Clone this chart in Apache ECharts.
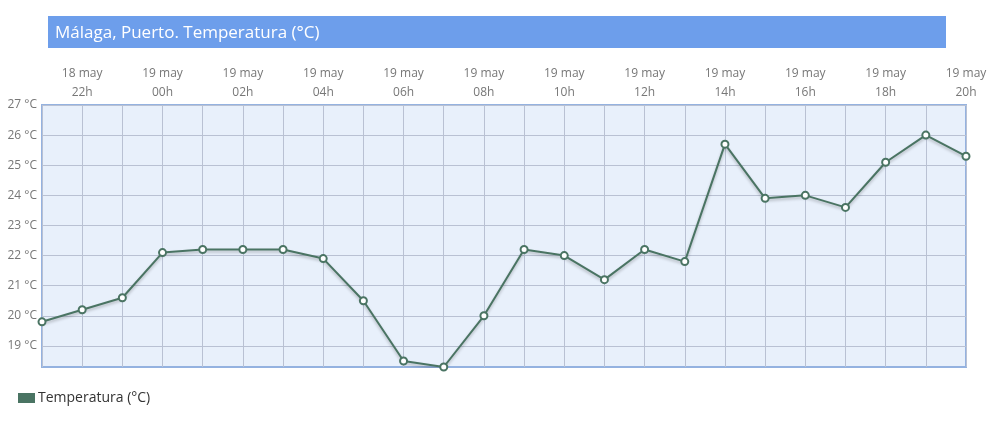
<!DOCTYPE html>
<html><head><meta charset="utf-8">
<script src="https://cdn.jsdelivr.net/npm/echarts@6/dist/echarts.min.js"></script>
<style>html,body{margin:0;padding:0;background:#fff}#c{width:993px;height:430px}</style>
</head><body><div id="c"></div>
<script>
const titleText = 'Málaga, Puerto. Temperatura (°C)';
const seriesName = 'Temperatura (°C)';
const days = ['18 may','18 may','18 may','19 may','19 may','19 may','19 may','19 may','19 may','19 may','19 may','19 may','19 may','19 may','19 may','19 may','19 may','19 may','19 may','19 may','19 may','19 may','19 may','19 may'];
const hours = ['21h','22h','23h','00h','01h','02h','03h','04h','05h','06h','07h','08h','09h','10h','11h','12h','13h','14h','15h','16h','17h','18h','19h','20h'];
const temps = [19.8,20.2,20.6,22.1,22.2,22.2,22.2,21.9,20.5,18.5,18.3,20.0,22.2,22.0,21.2,22.2,21.8,25.7,23.9,24.0,23.6,25.1,26.0,25.3];
const yTicks = [19,20,21,22,23,24,25,26,27];
const yMin = 18.3, yMax = 27;

const categories = days.map((d,i)=>d+'\n'+hours[i]);
const chart = echarts.init(document.getElementById('c'));
chart.setOption({
  animation:false,
  textStyle:{fontFamily:'Open Sans'},
  graphic:[
    {type:'rect',shape:{x:48,y:16,width:898,height:32},style:{fill:'#6d9eeb'}},
    {type:'text',left:55,top:25,style:{text:titleText,fill:'#fff',font:'17px "Open Sans"'}}
  ],
  legend:{left:13,top:386,itemWidth:15,itemHeight:8,itemGap:3,icon:'rect',
    textStyle:{color:'#333',fontSize:14,fontFamily:'Open Sans',padding:[0,0,0,-1]},
    data:[{name:seriesName,itemStyle:{color:'#4a7463'}}]},
  grid:{left:42,right:27,top:105,bottom:63,show:true,backgroundColor:'#e8f0fb',borderColor:'#94b2e0',borderWidth:2},
  xAxis:{type:'category',data:categories,boundaryGap:false,position:'top',
    axisLine:{show:false},axisTick:{show:false},
    axisLabel:{interval:(i)=>i%2===1,color:'#777',fontSize:12,lineHeight:19,margin:3,fontFamily:'Open Sans'},
    splitLine:{show:true,interval:0,lineStyle:{color:'#b9c1d3',width:1}}},
  yAxis:{type:'value',min:yMin,max:yMax,
    axisLine:{show:false},
    axisTick:{show:false,customValues:yTicks},
    axisLabel:{customValues:yTicks,color:'#777',fontSize:12,margin:5,formatter:v=>v+' °C',fontFamily:'Open Sans'},
    splitLine:{show:true,lineStyle:{color:'#b9c1d3',width:1}}},
  series:[{name:seriesName,type:'line',data:temps,
    symbol:'circle',symbolSize:7,
    lineStyle:{color:'#4a7463',width:2,shadowColor:'rgba(0,0,0,0.25)',shadowBlur:3,shadowOffsetY:2},
    itemStyle:{color:'#fff',borderColor:'#4a7463',borderWidth:2},
    z:5}]
});
</script></body></html>
